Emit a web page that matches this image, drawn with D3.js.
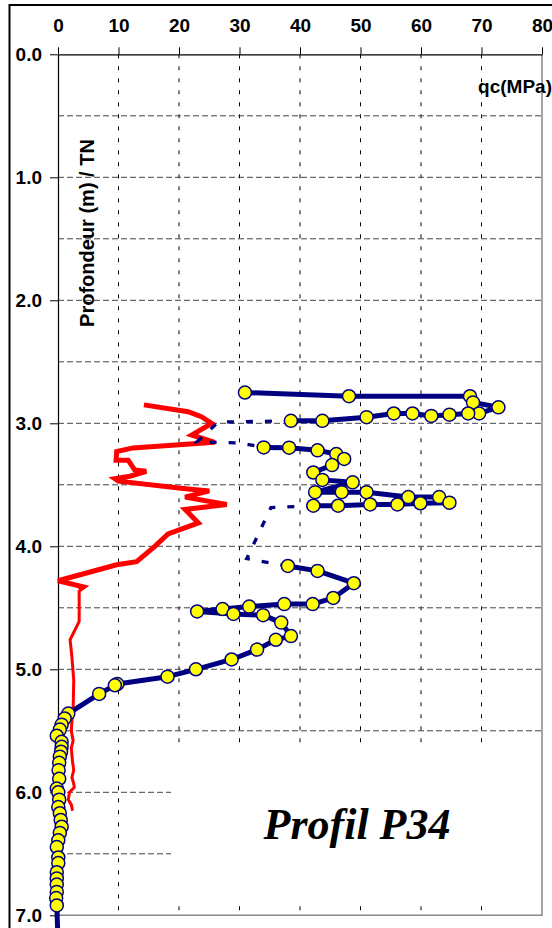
<!DOCTYPE html>
<html>
<head>
<meta charset="utf-8">
<script src="https://cdn.jsdelivr.net/npm/d3@7"></script>
<style>
  body { margin: 0; background: #fff; }
  text { font-family: "Liberation Sans", Arial, sans-serif; font-weight: bold; }
</style>
</head>
<body>
<script>
const qcTicks = [0, 10, 20, 30, 40, 50, 60, 70, 80];
const depthTicks = [0, 1, 2, 3, 4, 5, 6, 7];
const gridDepths = [0.5, 1, 1.5, 2, 2.5, 3, 3.5, 4, 4.5, 5, 5.5, 6, 6.5];
const gridQc = [10, 20, 30, 40, 50, 60, 70];

// red curve [qc, depth]
const redUpper = [[14.2,2.85],[21.5,2.906],[23.7,2.946],[25.4,3.0],[22.1,3.095],[25.9,3.155],
  [12.4,3.2],[9.7,3.23],[9.6,3.3],[11.6,3.3],[12.7,3.38],[14.6,3.39],[11.9,3.43],[9.4,3.45],
  [10.0,3.47],[20.7,3.53],[25.0,3.55],[21.0,3.6],[27.9,3.66],[21.0,3.7],[23.2,3.81],[18.2,3.9],
  [16.0,4.0],[13.0,4.125],[9.7,4.15],[0.0,4.28],[4.2,4.33],[3.5,4.355]];
const redLower = [[3.5,4.355],[3.5,4.61],[2.0,4.76],[2.3,4.9],[2.6,5.09],[2.5,5.33],[2.3,5.42],
  [2.2,5.5],[2.5,5.58],[2.2,5.64],[2.4,5.75],[2.6,5.82],[2.3,5.88],[2.6,5.93],[2.7,5.96],
  [1.9,6.0],[1.7,6.06],[2.2,6.1],[2.4,6.15]];

// blue qc series, solid runs
const blueRun1 = [[30.9,2.75],[48.1,2.78],[68.1,2.78],[68.6,2.83],[72.8,2.87],[69.6,2.92],
  [67.8,2.92],[64.7,2.93],[61.7,2.94],[58.6,2.92],[55.5,2.92],[51.0,2.95],[43.7,2.98],[38.5,2.98]];
const blueRun2 = [[34.0,3.196],[38.2,3.198],[42.9,3.22],[46.0,3.25],[47.3,3.29],[45.3,3.34],
  [42.2,3.4],[43.7,3.46],[48.7,3.48],[42.5,3.56],[46.9,3.56],[51.0,3.56],[57.9,3.6],[63.0,3.6],
  [64.7,3.645],[59.9,3.65],[56.1,3.66],[51.6,3.66],[46.3,3.67],[42.2,3.67]];
const blueRun3 = [[38.0,4.16],[42.9,4.2],[48.9,4.3],[45.5,4.42],[42.1,4.47],[37.4,4.47],
  [31.6,4.49],[27.2,4.51],[23.0,4.53],[29.0,4.55],[33.9,4.56],[36.9,4.62],[38.5,4.73],[36.0,4.76],
  [32.9,4.84],[28.7,4.92],[22.8,5.0],[18.1,5.06],[9.8,5.12],[9.4,5.13],[6.8,5.2],
  [1.7,5.36],[1.1,5.4],[0.6,5.45],[0.3,5.49],[-0.2,5.54],[0.6,5.59],[0.6,5.63],[0.5,5.67],
  [0.3,5.71],[0.2,5.76],[0.1,5.82],[0.2,5.89],[-0.2,5.97],[0.05,6.0],[0.2,6.06],[0.05,6.12],
  [0.3,6.17],[0.45,6.225],[0.6,6.28],[0.3,6.33],[0.05,6.39],[-0.2,6.445],[0.05,6.53],[0.05,6.575],
  [-0.2,6.65],[-0.2,6.7],[-0.2,6.75],[-0.2,6.81],[-0.3,6.86],[-0.2,6.92],[0.0,7.2]];
// dashed connectors between runs
const blueGap1 = [[38.5,2.98],[26.5,2.99],[23.0,3.15],[30.0,3.16],[34.0,3.196]];
const blueGap2 = [[42.2,3.67],[35.2,3.685],[31.2,4.1],[38.0,4.16]];

const width = 552, height = 928;
const navy = "#000080";

const svg = d3.select("body").append("svg")
  .attr("width", width)
  .attr("height", height);

const x = d3.scaleLinear().domain([0, 80]).range([58, 542]);
const y = d3.scaleLinear().domain([0, 7]).range([54.3, 915.3]);

// outer frame (right/bottom edges fall outside the picture)
svg.append("rect")
  .attr("x", 9.5).attr("y", 5)
  .attr("width", 600).attr("height", 960)
  .attr("fill", "none").attr("stroke", "#000").attr("stroke-width", 2);

// grid
svg.append("g").selectAll("line")
  .data(gridQc).enter().append("line")
  .attr("x1", d => x(d)).attr("x2", d => x(d))
  .attr("y1", y(0)).attr("y2", y(7))
  .attr("stroke", "#000").attr("stroke-dasharray", "4,8");

svg.append("g").selectAll("line")
  .data(gridDepths).enter().append("line")
  .attr("x1", x(0)).attr("x2", x(80))
  .attr("y1", d => y(d)).attr("y2", d => y(d))
  .attr("stroke", "#444").attr("stroke-dasharray", "6,3");

// plot border right and bottom (grey)
svg.append("path")
  .attr("d", `M${x(80)},${y(0)}V${y(7)}H${x(0)}`)
  .attr("fill", "none").attr("stroke", "#888").attr("stroke-width", 1.5);

// label box hides the grid
svg.append("rect")
  .attr("x", 171).attr("y", 747)
  .attr("width", 370).attr("height", 153)
  .attr("fill", "#fff");

// axes
const topAxis = d3.axisTop(x).tickValues(qcTicks).tickSize(7).tickSizeOuter(0).tickPadding(15);
const gTop = svg.append("g").attr("transform", `translate(0,${y(0)})`).call(topAxis);
gTop.selectAll("text").attr("font-size", 19).attr("fill", "#000");

const leftAxis = d3.axisLeft(y).tickValues(depthTicks).tickSize(8).tickSizeOuter(0)
  .tickPadding(8).tickFormat(d3.format(".1f"));
const gLeft = svg.append("g").attr("transform", `translate(${x(0)},0)`).call(leftAxis);
gLeft.selectAll("text").attr("font-size", 19).attr("fill", "#000");
svg.selectAll(".domain").attr("stroke-width", 1.2);

const line = d3.line().x(d => x(d[0])).y(d => y(d[1]));

// red curve
svg.append("path").datum(redLower)
  .attr("d", line).attr("fill", "none")
  .attr("stroke", "#ff0000").attr("stroke-width", 3).attr("stroke-linejoin", "round");
svg.append("path").datum(redUpper)
  .attr("d", line).attr("fill", "none")
  .attr("stroke", "#ff0000").attr("stroke-width", 5).attr("stroke-linejoin", "miter");

// blue dashed connectors
[blueGap1, blueGap2].forEach(g => {
  svg.append("path").datum(g)
    .attr("d", line).attr("fill", "none")
    .attr("stroke", navy).attr("stroke-width", 3.3)
    .attr("stroke-dasharray", "7,12");
});

// blue solid runs + markers
const runs = [blueRun1, blueRun2, blueRun3];
runs.forEach(r => {
  svg.append("path").datum(r)
    .attr("d", line).attr("fill", "none")
    .attr("stroke", navy).attr("stroke-width", 5).attr("stroke-linejoin", "round");
});
svg.append("g").selectAll("circle")
  .data(runs.flat()).enter().append("circle")
  .attr("cx", d => x(d[0])).attr("cy", d => y(d[1]))
  .attr("r", 6.5)
  .attr("fill", "#ffff00").attr("stroke", navy).attr("stroke-width", 1.5);

// titles
svg.append("text")
  .attr("x", 552).attr("y", 93)
  .attr("text-anchor", "end").attr("font-size", 19)
  .text("qc(MPa)");

svg.append("text")
  .attr("transform", "translate(94,233) rotate(-90)")
  .attr("text-anchor", "middle").attr("font-size", 20)
  .text("Profondeur (m) / TN");

svg.append("text")
  .attr("x", 357).attr("y", 839)
  .attr("text-anchor", "middle")
  .style("font-family", "'Liberation Serif', 'DejaVu Serif', serif")
  .style("font-style", "italic").style("font-weight", "bold")
  .attr("font-size", 44)
  .text("Profil P34");
</script>
</body>
</html>
